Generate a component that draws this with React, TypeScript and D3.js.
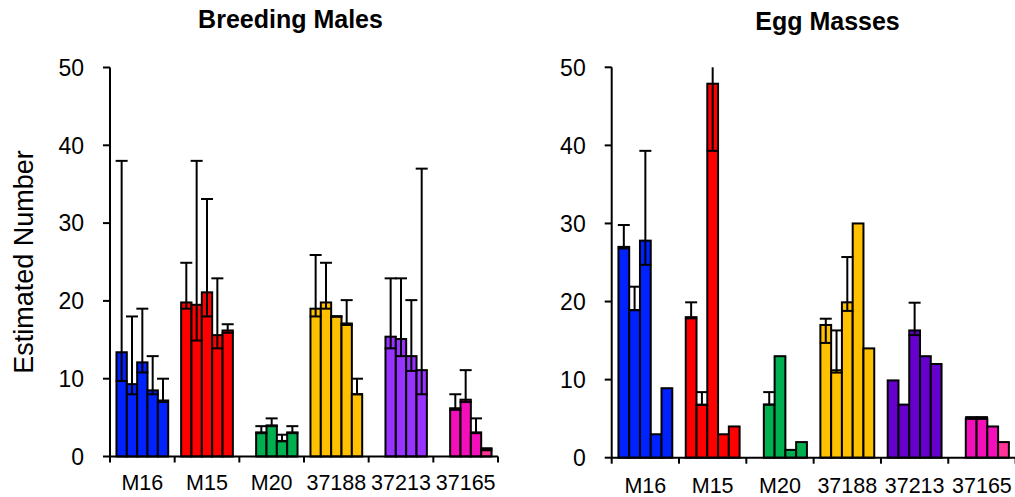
import React from "react";
import { scaleBand, scaleLinear } from "d3";

// categories (sites) and tick labels
const sites = ["M16", "M15", "M20", "37188", "37213", "37165"];
const slots = [0, 1, 2, 3, 4]; // five surveys per site
const yTicks = [0, 10, 20, 30, 40, 50];

// Breeding Males: estimates with lower / upper limits (null = no survey)
const malesEst = [
  [13.4, 9.3, 12.1, 8.5, 7.2],
  [19.8, 19.5, 21.1, 15.6, 16.2],
  [null, 3.1, 4.0, 2.0, 3.1],
  [19.0, 19.8, 18.0, 17.1, 8.0],
  [null, 15.4, 15.1, 12.9, 11.1],
  [null, 6.2, 7.3, 3.1, 1.0],
];
const malesLo = [
  [9.7, 8.0, 10.8, 8.0, 7.0],
  [19.0, 14.9, 18.0, 13.9, 15.9],
  [null, 3.0, 3.9, 1.95, 3.0],
  [18.0, 19.0, 18.0, 16.9, 8.0],
  [null, 13.9, 12.9, 11.0, 8.0],
  [null, 6.0, 7.0, 3.0, 0.8],
];
const malesHi = [
  [38, 18, 19, 12.9, 10],
  [24.9, 38, 33.1, 22.9, 17],
  [null, 3.9, 4.9, 2.8, 3.9],
  [25.9, 24.9, 18.0, 20.1, 10],
  [null, 22.9, 22.9, 20.1, 37],
  [null, 8.0, 11.1, 4.9, 1.05],
];

// Egg Masses
const eggsEst = [
  [27.0, 18.9, 27.8, 3.0, 8.9],
  [18.0, 6.8, 47.9, 3.0, 4.0],
  [null, 6.8, 13.0, 1.0, 2.0],
  [17.0, 11.2, 19.9, 30.0, 14.0],
  [9.9, 6.8, 16.3, 13.0, 12.0],
  [null, 5.0, 5.0, 4.0, 2.0],
];
const eggsLo = [
  [26.8, 18.9, 24.7, null, null],
  [17.85, 6.75, 39.3, null, null],
  [null, 6.8, null, null, null],
  [14.7, 10.9, 18.8, null, null],
  [null, null, 15.7, null, null],
  [null, 5.0, 5.0, null, null],
];
const eggsHi = [
  [29.8, 21.9, 39.3, null, null],
  [19.9, 8.4, 56, null, null],
  [null, 8.4, null, null, null],
  [17.8, 16.3, 25.7, null, null],
  [null, null, 19.85, null, null],
  [null, 5.2, 5.2, null, null],
];

const malesColors = ["#0022ff", "#ff0000", "#00b050", "#ffc000", "#9933ff", "#f50fbb"];
const eggsColors = ["#0022ff", "#ff0000", "#00b050", "#ffc000", "#6600cc", "#f50fbb"];
const lastPink = "#ff3399";

const FONT = "'Liberation Sans', Arial, sans-serif";

type Num = number | null;

const Panel = ({ title, est, lo, hi, colors, x0, x1, y0, y1, titleX, titleY, labelY }: any) => {
  const x = scaleBand<string>().domain(sites).range([x0, x1]).paddingInner(0.2).paddingOuter(0.1);
  const xs = scaleBand<number>().domain(slots).range([0, x.bandwidth()]);
  const y = scaleLinear().domain([0, 50]).range([y0, y1]);
  const step = x.step();

  return (
    <g>
      <text x={titleX} y={titleY} textAnchor="middle" fontFamily={FONT} fontWeight="bold" fontSize={25}>
        {title}
      </text>
      {/* bars */}
      {sites.map((s, i) =>
        slots.map((j) => {
          const v = est[i][j] as Num;
          if (v == null) return null;
          const fill = i === 5 && j === 4 ? lastPink : colors[i];
          return (
            <rect
              key={s + j}
              x={(x(s) as number) + (xs(j) as number)}
              y={y(v)}
              width={xs.bandwidth()}
              height={y(0) - y(v)}
              fill={fill}
              stroke="#000"
              strokeWidth={2}
            />
          );
        })
      )}
      {/* error bars */}
      {sites.map((s, i) =>
        slots.map((j) => {
          const l = lo[i][j] as Num;
          const h = hi[i][j] as Num;
          if (l == null || h == null) return null;
          const cx = (x(s) as number) + (xs(j) as number) + xs.bandwidth() / 2;
          const top = Math.min(h, 50);
          const cw = 6;
          return (
            <g key={"e" + s + j} stroke="#000" strokeWidth={2}>
              <line x1={cx} x2={cx} y1={y(l)} y2={y(top)} />
              <line x1={cx - cw} x2={cx + cw} y1={y(l)} y2={y(l)} />
              {h <= 50 && <line x1={cx - cw} x2={cx + cw} y1={y(h)} y2={y(h)} />}
            </g>
          );
        })
      )}
      {/* y axis */}
      <line x1={x0} x2={x0} y1={y(0)} y2={y(50)} stroke="#000" strokeWidth={2} />
      {yTicks.map((t) => (
        <g key={t}>
          <line x1={x0 - 7} x2={x0} y1={y(t)} y2={y(t)} stroke="#000" strokeWidth={2} />
          <text x={x0 - 26} y={y(t)} dy="0.36em" textAnchor="end" fontFamily={FONT} fontSize={23}>
            {t}
          </text>
        </g>
      ))}
      {/* x axis */}
      <line x1={x0} x2={x1} y1={y(0)} y2={y(0)} stroke="#000" strokeWidth={2} />
      {sites.map((s, i) => (
        <line key={"t" + s} x1={x0 + (i + 1) * step} x2={x0 + (i + 1) * step} y1={y(0)} y2={y(0) + 6} stroke="#000" strokeWidth={2} />
      ))}
      <line x1={x0} x2={x0} y1={y(0)} y2={y(0) + 6} stroke="#000" strokeWidth={2} />
      {sites.map((s) => (
        <text key={"l" + s} x={(x(s) as number) + x.bandwidth() / 2} y={labelY} textAnchor="middle" fontFamily={FONT} fontSize={21.5}>
          {s}
        </text>
      ))}
    </g>
  );
};

export default function App() {
  return (
    <svg width={1015} height={497} style={{ position: "absolute", left: 0, top: 0, background: "#fff" }}>
      <rect width={1015} height={497} fill="#fff" />
      <text
        transform="translate(33,262) rotate(-90)"
        textAnchor="middle"
        fontFamily={FONT}
        fontSize={27}
      >
        Estimated Number
      </text>
      <Panel
        title="Breeding Males"
        est={malesEst}
        lo={malesLo}
        hi={malesHi}
        colors={malesColors}
        x0={110}
        x1={498}
        y0={456.5}
        y1={67.5}
        titleX={290.5}
        titleY={28}
        labelY={490}
      />
      <Panel
        title="Egg Masses"
        est={eggsEst}
        lo={eggsLo}
        hi={eggsHi}
        colors={eggsColors}
        x0={611.7}
        x1={1015.6}
        y0={457.7}
        y1={67.3}
        titleX={827.5}
        titleY={30}
        labelY={493}
      />
    </svg>
  );
}
